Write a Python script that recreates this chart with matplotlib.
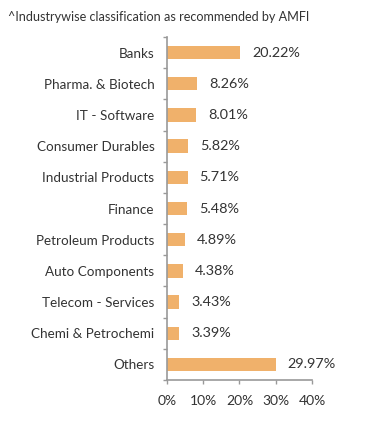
import matplotlib
matplotlib.use("Agg")
import matplotlib.pyplot as plt
import numpy as np

categories = [
    "Banks",
    "Pharma. & Biotech",
    "IT - Software",
    "Consumer Durables",
    "Industrial Products",
    "Finance",
    "Petroleum Products",
    "Auto Components",
    "Telecom - Services",
    "Chemi & Petrochemi",
    "Others",
]
weights = [20.22, 8.26, 8.01, 5.82, 5.71, 5.48, 4.89, 4.38, 3.43, 3.39, 29.97]
x_ticks = [0, 10, 20, 30, 40]
x_ticklabels = ["0%", "10%", "20%", "30%", "40%"]
note = "^Industrywise classification as recommended by AMFI"

plt.rcParams["font.family"] = ["Lato", "DejaVu Sans"]
text_color = "#333333"
axis_color = "#999999"
bar_color = "#F0B16B"

fig = plt.figure(figsize=(3.91, 4.34), dpi=100)
ax = fig.add_axes([0.427, 0.1244, 0.371, 0.7903])

y = np.arange(len(categories))
ax.barh(y, weights, height=0.43, color=bar_color)

for yi, w in zip(y, weights):
    ax.annotate(f"{w:.2f}%", (w, yi), xytext=(8.6, 0), textcoords="offset points",
                va="center", ha="left", fontsize=10.4, color=text_color)

ax.set_ylim(len(categories) - 0.5, -0.5)
ax.set_xlim(0, 40)
ax.set_xticks(x_ticks)
ax.set_xticklabels(x_ticklabels)

# y ticks sit between categories, labels in the middle
ax.set_yticks(np.arange(len(categories) + 1) - 0.5)
ax.set_yticklabels([])
ax.set_yticks(y, minor=True)
ax.set_yticklabels(categories, minor=True)
ax.tick_params(axis="y", which="major", length=3, color=axis_color, width=1)
ax.tick_params(axis="y", which="minor", length=0, pad=9, labelsize=9.7, labelcolor=text_color)
ax.tick_params(axis="x", length=3, color=axis_color, width=1, pad=8,
               labelsize=10, labelcolor=text_color)

for s in ["top", "right"]:
    ax.spines[s].set_visible(False)
for s in ["left", "bottom"]:
    ax.spines[s].set_color(axis_color)
    ax.spines[s].set_linewidth(1.2)

fig.text(0.02, 0.961, note, fontsize=9.1, color=text_color, va="center", ha="left")

fig.savefig("out.png", dpi=100)
